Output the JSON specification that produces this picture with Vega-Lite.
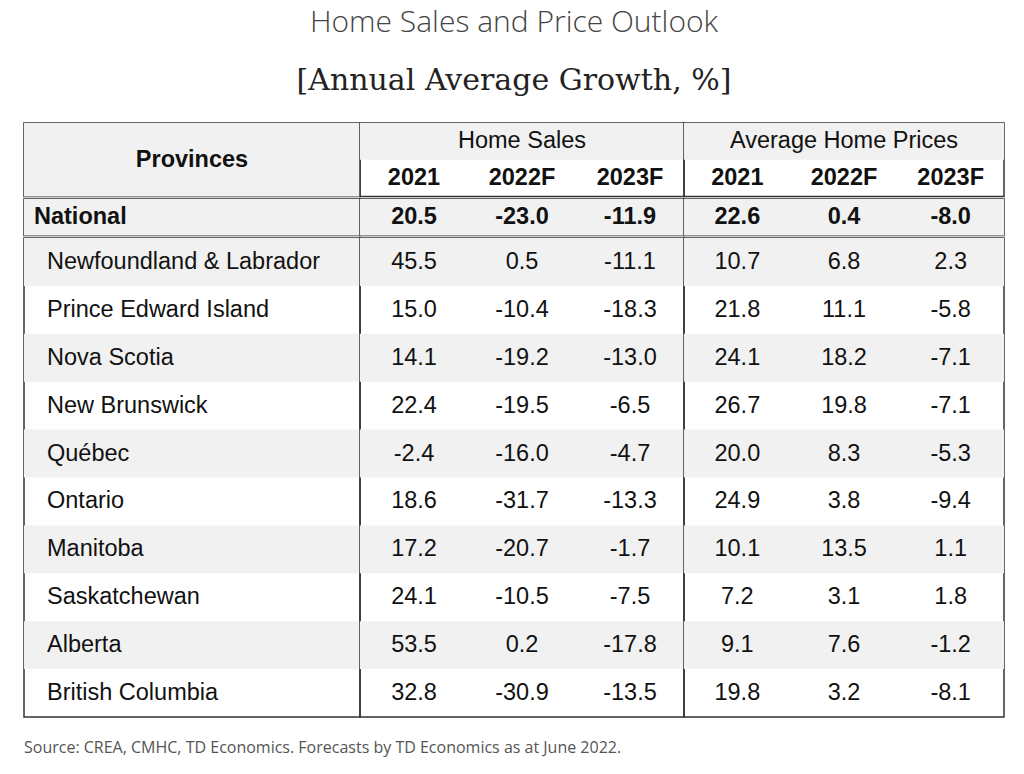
{
  "$schema": "https://vega.github.io/schema/vega-lite/v6.json",
  "background": "white",
  "padding": {"left": 23, "top": 8, "right": 21, "bottom": 0},
  "title": {
    "text": "Home Sales and Price Outlook",
    "subtitle": "[Annual Average Growth, %]",
    "anchor": "middle",
    "font": "Open Sans",
    "fontSize": 30,
    "fontWeight": 300,
    "color": "#444",
    "subtitleFont": "DejaVu Serif",
    "subtitleFontSize": 30,
    "subtitleColor": "#222",
    "subtitlePadding": 28,
    "offset": 26
  },
  "config": {
    "view": {"stroke": "#333", "strokeWidth": 1.5},
    "locale": {"number": {"decimal": ".", "thousands": ",", "grouping": [3], "currency": ["$", ""], "minus": "-"}},
    "text": {"font": "Liberation Sans", "fontSize": 23.5, "color": "#111"}
  },
  "datasets": {
    "national": [
      {"province": "National", "hs2021": 20.5, "hs2022F": -23.0, "hs2023F": -11.9, "hp2021": 22.6, "hp2022F": 0.4, "hp2023F": -8.0}
    ],
    "provinces": [
      {"province": "Newfoundland & Labrador", "hs2021": 45.5, "hs2022F": 0.5, "hs2023F": -11.1, "hp2021": 10.7, "hp2022F": 6.8, "hp2023F": 2.3},
      {"province": "Prince Edward Island", "hs2021": 15.0, "hs2022F": -10.4, "hs2023F": -18.3, "hp2021": 21.8, "hp2022F": 11.1, "hp2023F": -5.8},
      {"province": "Nova Scotia", "hs2021": 14.1, "hs2022F": -19.2, "hs2023F": -13.0, "hp2021": 24.1, "hp2022F": 18.2, "hp2023F": -7.1},
      {"province": "New Brunswick", "hs2021": 22.4, "hs2022F": -19.5, "hs2023F": -6.5, "hp2021": 26.7, "hp2022F": 19.8, "hp2023F": -7.1},
      {"province": "Québec", "hs2021": -2.4, "hs2022F": -16.0, "hs2023F": -4.7, "hp2021": 20.0, "hp2022F": 8.3, "hp2023F": -5.3},
      {"province": "Ontario", "hs2021": 18.6, "hs2022F": -31.7, "hs2023F": -13.3, "hp2021": 24.9, "hp2022F": 3.8, "hp2023F": -9.4},
      {"province": "Manitoba", "hs2021": 17.2, "hs2022F": -20.7, "hs2023F": -1.7, "hp2021": 10.1, "hp2022F": 13.5, "hp2023F": 1.1},
      {"province": "Saskatchewan", "hs2021": 24.1, "hs2022F": -10.5, "hs2023F": -7.5, "hp2021": 7.2, "hp2022F": 3.1, "hp2023F": 1.8},
      {"province": "Alberta", "hs2021": 53.5, "hs2022F": 0.2, "hs2023F": -17.8, "hp2021": 9.1, "hp2022F": 7.6, "hp2023F": -1.2},
      {"province": "British Columbia", "hs2021": 32.8, "hs2022F": -30.9, "hs2023F": -13.5, "hp2021": 19.8, "hp2022F": 3.2, "hp2023F": -8.1}
    ]
  },
  "spacing": 0,
  "vconcat": [
    {
      "spacing": 0,
      "bounds": "flush",
      "hconcat": [
        {
          "width": 336, "height": 73.5,
          "data": {"values": [{"label": "Provinces"}]},
          "layer": [
            {"mark": {"type": "rect", "color": "#f1f1f1"}, "encoding": {"x": {"value": 0}, "x2": {"value": "width"}, "y": {"value": 0}, "y2": {"value": "height"}}},
            {"mark": {"type": "text", "fontWeight": "bold"}, "encoding": {"text": {"field": "label"}}}
          ]
        },
        {
          "width": 324, "height": 73.5,
          "data": {"values": [{"group": "Home Sales", "year": "2021"}, {"group": "Home Sales", "year": "2022F"}, {"group": "Home Sales", "year": "2023F"}]},
          "layer": [
            {"transform": [{"aggregate": [{"op": "count", "as": "n"}], "groupby": ["group"]}],
             "mark": {"type": "rect", "color": "#f1f1f1"},
             "encoding": {"x": {"value": 0}, "x2": {"value": "width"}, "y": {"datum": "group", "type": "nominal", "scale": {"type": "band", "domain": ["group", "year"], "paddingInner": 0, "paddingOuter": 0}, "axis": null}}},
            {"transform": [{"aggregate": [{"op": "count", "as": "n"}], "groupby": ["group"]}],
             "mark": {"type": "text"},
             "encoding": {"text": {"field": "group"}, "y": {"datum": "group", "type": "nominal"}}},
            {"mark": {"type": "text", "fontWeight": "bold"},
             "encoding": {"text": {"field": "year"}, "x": {"field": "year", "type": "nominal", "sort": null, "axis": null}, "y": {"datum": "year", "type": "nominal"}}}
          ]
        },
        {
          "width": 320, "height": 73.5,
          "data": {"values": [{"group": "Average Home Prices", "year": "2021"}, {"group": "Average Home Prices", "year": "2022F"}, {"group": "Average Home Prices", "year": "2023F"}]},
          "layer": [
            {"transform": [{"aggregate": [{"op": "count", "as": "n"}], "groupby": ["group"]}],
             "mark": {"type": "rect", "color": "#f1f1f1"},
             "encoding": {"x": {"value": 0}, "x2": {"value": "width"}, "y": {"datum": "group", "type": "nominal", "scale": {"type": "band", "domain": ["group", "year"], "paddingInner": 0, "paddingOuter": 0}, "axis": null}}},
            {"transform": [{"aggregate": [{"op": "count", "as": "n"}], "groupby": ["group"]}],
             "mark": {"type": "text"},
             "encoding": {"text": {"field": "group"}, "y": {"datum": "group", "type": "nominal"}}},
            {"mark": {"type": "text", "fontWeight": "bold"},
             "encoding": {"text": {"field": "year"}, "x": {"field": "year", "type": "nominal", "sort": null, "axis": null}, "y": {"datum": "year", "type": "nominal"}}}
          ]
        }
      ]
    },
    {
      "spacing": 0,
      "bounds": "flush",
      "hconcat": [
        {
          "width": 336, "height": 36.5,
          "data": {"name": "national"},
          "layer": [
            {"mark": {"type": "rect", "color": "#f1f1f1"}, "encoding": {"x": {"value": 0}, "x2": {"value": "width"}, "y": {"value": 0}, "y2": {"value": "height"}}},
            {"mark": {"type": "text", "fontWeight": "bold", "align": "left", "dx": 10}, "encoding": {"x": {"value": 0}, "text": {"field": "province"}}}
          ]
        },
        {
          "width": 324, "height": 36.5,
          "data": {"name": "national"},
          "layer": [
            {"mark": {"type": "rect", "color": "#f1f1f1"}, "encoding": {"x": {"value": 0}, "x2": {"value": "width"}, "y": {"value": 0}, "y2": {"value": "height"}}},
            {"transform": [{"fold": ["hs2021", "hs2022F", "hs2023F"], "as": ["key", "value"]}],
             "mark": {"type": "text", "fontWeight": "bold"},
             "encoding": {"x": {"field": "key", "type": "nominal", "sort": null, "axis": null}, "text": {"field": "value", "type": "quantitative", "format": ".1f"}}}
          ]
        },
        {
          "width": 320, "height": 36.5,
          "data": {"name": "national"},
          "layer": [
            {"mark": {"type": "rect", "color": "#f1f1f1"}, "encoding": {"x": {"value": 0}, "x2": {"value": "width"}, "y": {"value": 0}, "y2": {"value": "height"}}},
            {"transform": [{"fold": ["hp2021", "hp2022F", "hp2023F"], "as": ["key", "value"]}],
             "mark": {"type": "text", "fontWeight": "bold"},
             "encoding": {"x": {"field": "key", "type": "nominal", "sort": null, "axis": null}, "text": {"field": "value", "type": "quantitative", "format": ".1f"}}}
          ]
        }
      ]
    },
    {
      "spacing": 0,
      "bounds": "flush",
      "hconcat": [
        {
          "width": 336, "height": 479,
          "data": {"name": "provinces"},
          "transform": [{"window": [{"op": "row_number", "as": "n"}]}],
          "layer": [
            {"transform": [{"filter": "datum.n % 2 == 1"}],
             "mark": {"type": "rect", "color": "#f1f1f1"},
             "encoding": {"x": {"value": 0}, "x2": {"value": "width"}, "y": {"field": "province", "type": "nominal", "sort": null, "scale": {"type": "band", "domain": ["Newfoundland & Labrador", "Prince Edward Island", "Nova Scotia", "New Brunswick", "Québec", "Ontario", "Manitoba", "Saskatchewan", "Alberta", "British Columbia"], "paddingInner": 0, "paddingOuter": 0}, "axis": null}}},
            {"mark": {"type": "text", "align": "left", "dx": 23},
             "encoding": {"x": {"value": 0}, "y": {"field": "province", "type": "nominal", "sort": null}, "text": {"field": "province"}}}
          ]
        },
        {
          "width": 324, "height": 479,
          "data": {"name": "provinces"},
          "transform": [{"window": [{"op": "row_number", "as": "n"}]}],
          "layer": [
            {"transform": [{"filter": "datum.n % 2 == 1"}],
             "mark": {"type": "rect", "color": "#f1f1f1"},
             "encoding": {"x": {"value": 0}, "x2": {"value": "width"}, "y": {"field": "province", "type": "nominal", "sort": null, "scale": {"type": "band", "domain": ["Newfoundland & Labrador", "Prince Edward Island", "Nova Scotia", "New Brunswick", "Québec", "Ontario", "Manitoba", "Saskatchewan", "Alberta", "British Columbia"], "paddingInner": 0, "paddingOuter": 0}, "axis": null}}},
            {"transform": [{"fold": ["hs2021", "hs2022F", "hs2023F"], "as": ["key", "value"]}],
             "mark": {"type": "text"},
             "encoding": {"x": {"field": "key", "type": "nominal", "sort": null, "axis": null}, "y": {"field": "province", "type": "nominal", "sort": null}, "text": {"field": "value", "type": "quantitative", "format": ".1f"}}}
          ]
        },
        {
          "width": 320, "height": 479,
          "data": {"name": "provinces"},
          "transform": [{"window": [{"op": "row_number", "as": "n"}]}],
          "layer": [
            {"transform": [{"filter": "datum.n % 2 == 1"}],
             "mark": {"type": "rect", "color": "#f1f1f1"},
             "encoding": {"x": {"value": 0}, "x2": {"value": "width"}, "y": {"field": "province", "type": "nominal", "sort": null, "scale": {"type": "band", "domain": ["Newfoundland & Labrador", "Prince Edward Island", "Nova Scotia", "New Brunswick", "Québec", "Ontario", "Manitoba", "Saskatchewan", "Alberta", "British Columbia"], "paddingInner": 0, "paddingOuter": 0}, "axis": null}}},
            {"transform": [{"fold": ["hp2021", "hp2022F", "hp2023F"], "as": ["key", "value"]}],
             "mark": {"type": "text"},
             "encoding": {"x": {"field": "key", "type": "nominal", "sort": null, "axis": null}, "y": {"field": "province", "type": "nominal", "sort": null}, "text": {"field": "value", "type": "quantitative", "format": ".1f"}}}
          ]
        }
      ]
    },
    {
      "width": 980, "height": 60,
      "view": {"stroke": null},
      "data": {"values": [{"note": "Source: CREA, CMHC, TD Economics. Forecasts by TD Economics as at June 2022."}]},
      "mark": {"type": "text", "align": "left", "font": "Open Sans", "fontSize": 16, "color": "#555"},
      "encoding": {"x": {"value": 0}, "text": {"field": "note"}}
    }
  ]
}
